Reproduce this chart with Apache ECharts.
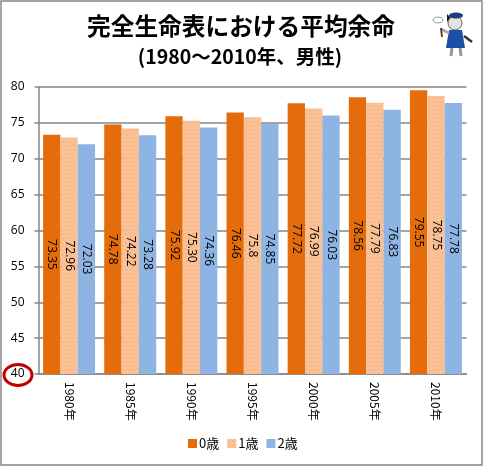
<!DOCTYPE html>
<html>
<head>
<meta charset="UTF-8">
<script src="https://cdn.jsdelivr.net/npm/echarts@6/dist/echarts.min.js"></script>
<style>
html,body{margin:0;padding:0;background:#fff;}
#main{width:483px;height:466px;}
</style>
</head>
<body>
<div id="main"></div>
<script>
var years = ['1980年','1985年','1990年','1995年','2000年','2005年','2010年'];
var age0 = [73.35,74.78,75.92,76.46,77.72,78.56,79.55];
var age1 = [72.96,74.22,75.30,75.8,76.99,77.79,78.75];
var age2 = [72.03,73.28,74.36,74.85,76.03,76.83,77.78];
var age0Text = ['73.35','74.78','75.92','76.46','77.72','78.56','79.55'];
var age1Text = ['72.96','74.22','75.30','75.8','76.99','77.79','78.75'];
var age2Text = ['72.03','73.28','74.36','74.85','76.03','76.83','77.78'];

var jp = '"Noto Sans CJK JP","Noto Sans",sans-serif';

// 1歳の系列の点々模様
function dots(){
    var c = document.createElement('canvas');
    c.width = 8; c.height = 8;
    var g = c.getContext('2d');
    g.fillStyle = '#fcc190';
    g.fillRect(0,0,8,8);
    g.fillStyle = '#e59aa8';
    g.fillRect(1,1,1,1);
    g.fillRect(5,2,1,1);
    g.fillRect(2,5,1,1);
    g.fillRect(6,6,1,1);
    return c;
}

function bar(name,data,text,color){
    return {
        name:name,
        type:'bar',
        data:data,
        barGap:0,
        barCategoryGap:'15%',
        itemStyle:{color:color},
        label:{
            show:true,
            position:'inside',
            rotate:-90,
            color:'#000',
            fontSize:12,
            fontFamily:'"Open Sans",sans-serif',
            formatter:function(p){return text[p.dataIndex];}
        }
    };
}

var chart = echarts.init(document.getElementById('main'));
chart.setOption({
    animation:false,
    backgroundColor:'#fff',
    grid:{left:38.5,right:16.5,top:87,bottom:92},
    title:[
        {text:'完全生命表における平均余命',left:236,top:9,textAlign:'center',
         textStyle:{fontSize:23.7,fontWeight:'bold',color:'#000',fontFamily:jp}},
        {text:'(1980～2010年、男性)',left:235,top:42,textAlign:'center',
         textStyle:{fontSize:19.5,fontWeight:'bold',color:'#000',fontFamily:jp}}
    ],
    legend:{
        left:188,top:437,padding:0,icon:'rect',itemWidth:9,itemHeight:9,itemGap:8,
        textStyle:{fontSize:13,color:'#000',fontFamily:jp,padding:[0,0,0,-3]},
        data:['0歳','1歳','2歳']
    },
    xAxis:{
        type:'category',
        data:years,
        axisLine:{lineStyle:{color:'#868686',width:1.5}},
        axisTick:{length:5,lineStyle:{color:'#868686',width:1.5}},
        axisLabel:{rotate:-90,color:'#000',fontSize:12,margin:8,fontFamily:jp}
    },
    yAxis:{
        type:'value',
        min:40,max:80,interval:5,
        axisLine:{show:true,lineStyle:{color:'#868686',width:1.5}},
        axisTick:{show:true,length:4,lineStyle:{color:'#868686',width:1.5}},
        axisLabel:{color:'#000',fontSize:12,margin:14,fontFamily:'"Open Sans",sans-serif'},
        splitLine:{lineStyle:{color:'#868686',width:1.5}}
    },
    series:[
        bar('0歳',age0,age0Text,'#e46c0a'),
        bar('1歳',age1,age1Text,{image:dots(),repeat:'repeat'}),
        bar('2歳',age2,age2Text,'#8db4e3')
    ],
    graphic:[
        {type:'rect',silent:true,shape:{x:1,y:1,width:481,height:464},
         style:{fill:'none',stroke:'#868686',lineWidth:1.5}},
        {type:'ellipse',silent:true,shape:{cx:18,cy:375,rx:14,ry:10.5},
         style:{fill:'none',stroke:'#c00000',lineWidth:3}},
        // 右上のマスコット
        {type:'group',silent:true,children:[
            {type:'line',shape:{x1:464,y1:36,x2:472,y2:42},style:{stroke:'#333',lineWidth:2.5}},
            {type:'line',shape:{x1:452,y1:47,x2:451,y2:56},style:{stroke:'#999',lineWidth:3}},
            {type:'line',shape:{x1:460,y1:47,x2:461,y2:56},style:{stroke:'#999',lineWidth:3}},
            {type:'polygon',shape:{points:[[449,30],[462,30],[465,48],[446,48]]},style:{fill:'#1c50a8'}},
            {type:'polygon',shape:{points:[[447,14],[451,18],[447,22]]},style:{fill:'#222'}},
            {type:'circle',shape:{cx:455,cy:23,r:7},style:{fill:'#e4e4e4',stroke:'#444',lineWidth:0.8}},
            {type:'ellipse',shape:{cx:456,cy:15.5,rx:7,ry:3},style:{fill:'#1f3f80'}},
            {type:'line',shape:{x1:449,y1:33,x2:441,y2:29},style:{stroke:'#aaa',lineWidth:3}},
            {type:'line',shape:{x1:442,y1:37,x2:441,y2:28},style:{stroke:'#7a3b10',lineWidth:2}},
            {type:'ellipse',shape:{cx:438,cy:20,rx:5,ry:3},style:{fill:'none',stroke:'#999',lineWidth:1}}
        ]}
    ]
});
</script>
</body>
</html>
